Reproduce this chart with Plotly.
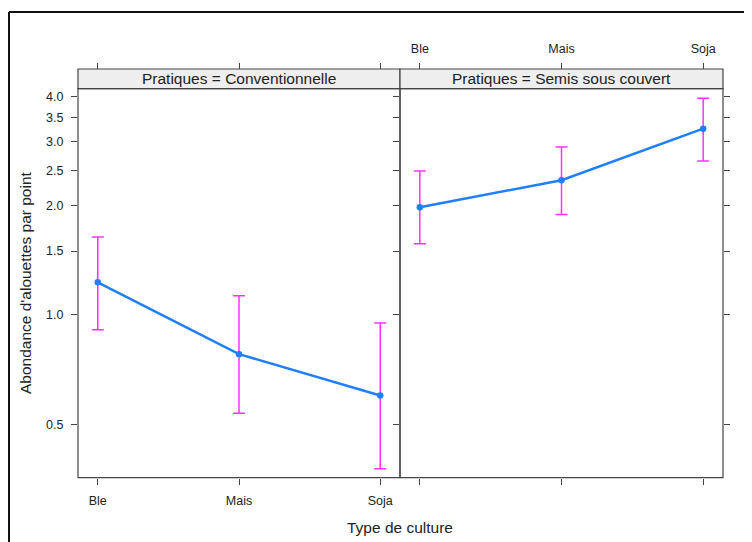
import plotly.graph_objects as go

# ---- data ----
cultures = ["Ble", "Mais", "Soja"]
conv_fit = [1.23, 0.78, 0.60]
conv_lower = [0.91, 0.536, 0.377]
conv_upper = [1.64, 1.13, 0.95]
scv_fit = [1.98, 2.35, 3.26]
scv_lower = [1.57, 1.89, 2.655]
scv_upper = [2.49, 2.90, 3.95]
panel_titles = ["Pratiques = Conventionnelle", "Pratiques = Semis sous couvert"]
y_ticks = [0.5, 1.0, 1.5, 2.0, 2.5, 3.0, 3.5, 4.0]
y_ticktext = ["0.5", "1.0", "1.5", "2.0", "2.5", "3.0", "3.5", "4.0"]
x_title = "Type de culture"
y_title = "Abondance d'alouettes par point"

# page has an 8px body margin: figure is drawn 8px right/down
OFF = 8
W, H = 752 - OFF, 542 - OFF
FONT = "Liberation Sans, Arial, sans-serif"
TXT = "#222222"
AX = "#444444"
LINE_BLUE = "#1f7fff"
MAGENTA = "#ff33ff"

def px(x):
    return (x - OFF) / W

def py(y):
    return 1 - (y - OFF) / H

xpos = [1, 2, 3]
xrange_ = [0.86, 3.14]
yrange_ = [-0.4482, 0.6232]

left_dom = [px(78), px(400)]
right_dom = [px(400), px(723)]
ydom = [py(477.7), py(88.7)]
strip_top = py(69)

fig = go.Figure()

def add_panel(fit, lo, hi, xa, ya):
    fig.add_trace(go.Scatter(
        x=xpos, y=fit, xaxis=xa, yaxis=ya, mode="lines+markers",
        line=dict(color=LINE_BLUE, width=2.5),
        marker=dict(color=LINE_BLUE, size=6.5),
        error_y=dict(type="data", symmetric=False,
                     array=[h - f for h, f in zip(hi, fit)],
                     arrayminus=[f - l for f, l in zip(fit, lo)],
                     color=MAGENTA, thickness=1.5, width=6),
        showlegend=False, hoverinfo="skip"))

add_panel(conv_fit, conv_lower, conv_upper, "x", "y")
add_panel(scv_fit, scv_lower, scv_upper, "x2", "y2")

tickfont = dict(family=FONT, size=12.5, color=TXT)
xcommon = dict(range=xrange_, tickvals=xpos, ticktext=cultures, ticks="outside",
               ticklen=6, tickcolor=AX, tickwidth=1, showgrid=False, zeroline=False,
               showline=False, tickfont=tickfont, ticklabelstandoff=5)
ycommon = dict(type="log", range=yrange_, tickvals=y_ticks, ticktext=y_ticktext,
               ticks="outside", ticklen=6, tickcolor=AX, tickwidth=1, showgrid=False,
               zeroline=False, showline=False, tickfont=tickfont, ticklabelstandoff=5)

fig.update_layout(
    width=W, height=H, margin=dict(l=0, r=0, t=0, b=0),
    paper_bgcolor="white", plot_bgcolor="white",
    font=dict(family=FONT, color=TXT),
    xaxis=dict(domain=left_dom, anchor="y", showticklabels=True, **xcommon),
    yaxis=dict(domain=ydom, anchor="x", showticklabels=True, **ycommon),
    xaxis2=dict(domain=right_dom, anchor="y2", showticklabels=False, **xcommon),
    yaxis2=dict(domain=ydom, anchor="x2", showticklabels=False, **ycommon),
    # top ticks (above strips)
    xaxis3=dict(overlaying="x", side="top", anchor="free", position=strip_top,
                showticklabels=False, **xcommon),
    xaxis4=dict(overlaying="x2", side="top", anchor="free", position=strip_top,
                showticklabels=True, **xcommon),
    # right ticks on right panel
    yaxis3=dict(overlaying="y2", side="right", anchor="x2",
                showticklabels=False, **ycommon),
)

# dummy traces to activate overlay axes
fig.add_trace(go.Scatter(x=[None], y=[None], xaxis="x3", yaxis="y", showlegend=False))
fig.add_trace(go.Scatter(x=[None], y=[None], xaxis="x4", yaxis="y2", showlegend=False))
fig.add_trace(go.Scatter(x=[None], y=[None], xaxis="x2", yaxis="y3", showlegend=False))

shapes = []
for dom in (left_dom, right_dom):
    # strip
    shapes.append(dict(type="rect", xref="paper", yref="paper",
                       x0=dom[0], x1=dom[1], y0=ydom[1], y1=strip_top,
                       fillcolor="#eeeeee", line=dict(color=AX, width=1.2), layer="below"))
    # panel frame
    shapes.append(dict(type="rect", xref="paper", yref="paper",
                       x0=dom[0], x1=dom[1], y0=ydom[0], y1=ydom[1],
                       fillcolor="rgba(0,0,0,0)", line=dict(color=AX, width=1.2), layer="above"))
# outer image frame
shapes.append(dict(type="line", xref="paper", yref="paper",
                   x0=px(9), x1=1.01, y0=py(12), y1=py(12), line=dict(color="#111", width=2)))
shapes.append(dict(type="line", xref="paper", yref="paper",
                   x0=px(9), x1=px(9), y0=py(12), y1=-0.01, line=dict(color="#111", width=2)))
fig.update_layout(shapes=shapes)

annotations = []
for dom, t in zip((left_dom, right_dom), panel_titles):
    annotations.append(dict(text=t, xref="paper", yref="paper",
                            x=(dom[0] + dom[1]) / 2, y=(ydom[1] + strip_top) / 2,
                            showarrow=False, xanchor="center", yanchor="middle",
                            font=dict(family=FONT, size=15.5, color=TXT)))
annotations.append(dict(text=x_title, xref="paper", yref="paper", x=px(400), y=py(527),
                        showarrow=False, xanchor="center", yanchor="middle",
                        font=dict(family=FONT, size=15.5, color=TXT)))
annotations.append(dict(text=y_title, xref="paper", yref="paper", x=px(25), y=py(283),
                        showarrow=False, xanchor="center", yanchor="middle", textangle=-90,
                        font=dict(family=FONT, size=15.5, color=TXT)))
fig.update_layout(annotations=annotations)

fig.write_html("out.html")
